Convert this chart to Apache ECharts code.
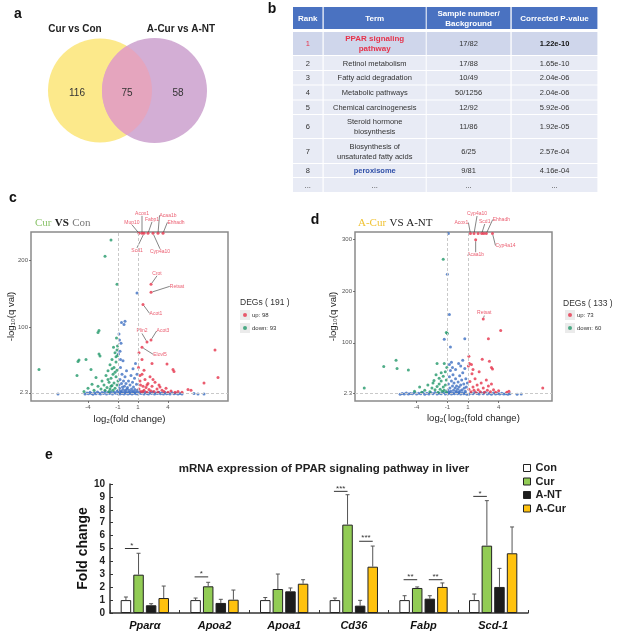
<!DOCTYPE html>
<html>
<head>
<meta charset="utf-8">
<script src="https://cdn.jsdelivr.net/npm/echarts@6/dist/echarts.min.js"></script>
<style>html,body{margin:0;padding:0;background:#fff}#main{width:617px;height:638px}</style>
</head>
<body>
<div id="main"></div>
<script>
// ---- a: venn
var vennSets = ['Cur vs Con', 'A-Cur vs A-NT'];
var vennCounts = [116, 75, 58];

// ---- b: KEGG table
var tableHead = ['Rank', 'Term', 'Sample number/\nBackground', 'Corrected P-value'];
var ranks = ['1', '2', '3', '4', '5', '6', '7', '8', '...'];
var terms = ['PPAR signaling\npathway', 'Retinol metabolism', 'Fatty acid degradation', 'Metabolic pathways',
  'Chemical carcinogenesis', 'Steroid hormone\nbiosynthesis', 'Biosynthesis of\nunsaturated fatty acids', 'peroxisome', '...'];
var samples = ['17/82', '17/88', '10/49', '50/1256', '12/92', '11/86', '6/25', '9/81', '...'];
var pvals = ['1.22e-10', '1.65e-10', '2.04e-06', '2.04e-06', '5.92e-06', '1.92e-05', '2.57e-04', '4.16e-04', '...'];

// ---- c: Cur vs Con volcano  [log2FC, -log10 q]
var cNs = [
  [-7.0,0.5],[6.6,1.2],[7.0,0.4],[7.6,0.6],
  [-4.3,0.4],[-4.1,2.1],[-3.95,0.8],[-3.8,3.1],[-3.65,1.2],[-3.5,0.2],[-3.35,2.4],[-3.2,0.9],[-3.05,3.6],[-2.9,1.5],[-2.75,0.3],[-2.6,2.8],[-2.45,1.1],[-2.3,4.0],[-2.15,0.6],[-2.0,2.5],[-1.85,1.3],[-1.7,3.7],[-1.55,0.4],[-1.4,2.9],[-1.25,1.6],[-1.1,4.4],[-1.0,0.7],
  [-0.9,2.2],[-0.8,0.5],[-0.7,3.4],[-0.6,1.0],[-0.5,2.7],[-0.4,0.3],[-0.3,3.9],[-0.2,1.4],[-0.1,2.6],[0.0,0.6],[0.1,3.2],[0.2,1.1],[0.3,4.1],[0.4,0.4],[0.5,2.3],[0.6,1.5],[0.7,3.6],[0.8,0.8],[0.9,2.9],[1.0,0.5],
  [1.15,3.3],[1.3,1.0],[1.45,2.4],[1.6,0.3],[1.75,3.0],[1.9,1.3],[2.05,0.6],[2.2,2.6],[2.35,1.1],[2.5,3.4],[2.65,0.4],[2.8,2.0],[2.95,1.2],[3.1,3.1],[3.25,0.7],[3.4,1.9],[3.55,0.3],[3.7,2.7],[3.85,0.9],[4.0,1.6],[4.2,0.4],[4.4,2.2],[4.6,0.8],[4.8,1.4],[5.0,0.3],[5.2,1.0],[5.4,0.5],
  [-0.95,6],[-0.9,14],[-0.85,9],[-0.8,22],[-0.75,40],[-0.7,5],[-0.7,76],[-0.65,16],[-0.6,30],[-0.55,11],[-0.5,50],[-0.5,7],[-0.45,20],[-0.4,104],[-0.35,12],[-0.3,109],[-0.3,26],[-0.25,6],[-0.2,16],[-0.15,35],[-0.1,8],[-0.05,10],[0.05,20],[0.1,6],[0.2,14],[0.3,28],[0.35,8],[0.45,18],[0.5,5],[0.5,38],[0.55,11],[0.65,24],[0.7,7],[0.75,46],[0.85,15],[0.9,151],[0.9,30],[0.95,6],[-0.9,90],[-0.85,81],[-0.95,60],[-0.65,107],[-0.8,64],[-0.75,52]
];
var cDown = [
  [-8.9,37],[-5.0,49],[-4.9,51],[-4.2,52],[-5.1,28],[-3.7,37],[-3.2,25],[-2.9,60],[-2.8,57],[-2.9,95],[-3.0,92],[-1.7,230],[-2.3,206],[-1.1,164],
  [-2.6,20],[-2.4,14],[-2.2,28],[-2.1,10],[-2.0,35],[-1.9,18],[-1.8,44],[-1.8,8],[-1.7,24],[-1.6,52],[-1.6,13],[-1.5,30],[-1.5,6],[-1.4,40],[-1.4,17],[-1.3,62],[-1.3,9],[-1.2,26],[-1.2,48],[-1.1,14],[-1.1,36],[-1.05,72],[-1.0,20],
  [-1.9,4],[-2.3,6],[-2.7,8],[-3.0,12],[-3.4,6],[-3.6,15],[-4.0,9],[-4.4,4],[-1.6,38],[-1.3,33],[-1.2,56],[-1.7,12],[-2.0,22],[-1.45,70],[-1.15,84],[-1.1,66],[-1.05,58]
];
var cUp = [
  [8.7,66],[9.0,25],[7.6,17],[6.0,7],[2.4,46],[3.9,45],[4.5,37],[4.6,34],[1.4,52],
  [1.1,8],[1.2,20],[1.3,4],[1.4,30],[1.5,12],[1.6,6],[1.7,22],[1.8,10],[1.9,3],[2.0,16],[2.1,7],[2.2,26],[2.3,5],[2.4,12],[2.6,4],[2.7,18],[2.9,8],[3.0,3],[3.2,11],[3.4,6],[3.6,4],[3.8,9],[4.0,3],[4.3,5],[4.7,3],[5.0,4],[5.4,3],[6.3,6],
  [1.05,40],[1.1,62],[1.25,14],[1.6,36],[2.5,22],[3.1,14],[1.2,28],[1.5,4],[1.9,14]
];
var cLabNames = ['Mup10', 'Acox1', 'Scd1', 'Fabp1', 'Cyp4a10', 'Acaa1b', 'Ehhadh', 'Crot', 'Retsat', 'Acot1', 'Plin2', 'Acot3', 'Elovl5'];
var cLabPts = [[1.1,240],[1.4,240],[1.6,240],[2.0,240],[2.5,240],[3.0,240],[3.5,240],[2.3,164],[2.3,152],[1.5,134],[1.9,78],[2.3,81],[1.4,70]];

// ---- d: A-Cur vs A-NT volcano
var dNs = [
  [-0.9,312],[-1.0,233],[-0.8,155],[0.7,108],[-1.3,107],[-0.7,92],[0.5,66],[0.1,60],[-0.5,52],[5.8,0.3],[6.2,0.5],
  [-5.6,0.3],[-5.4,1.5],[-5.2,0.6],[-5.0,2.4],[-4.8,0.4],[-4.6,1.7],[-4.4,0.9],[-4.2,3.0],[-4.0,0.5],[-3.8,2.2],[-3.6,1.0],[-3.4,3.3],[-3.2,0.3],[-3.0,1.9],[-2.8,0.8],[-2.6,2.8],[-2.4,1.2],[-2.2,3.6],[-2.0,0.4],[-1.8,2.1],[-1.6,1.1],[-1.4,3.4],[-1.2,0.6],[-1.05,2.5],
  [-0.9,1.2],[-0.75,3.1],[-0.6,0.4],[-0.45,2.2],[-0.3,0.9],[-0.15,3.5],[0.0,1.3],[0.15,2.8],[0.3,0.5],[0.45,3.2],[0.6,1.0],[0.75,2.4],[0.9,0.3],
  [1.1,0.3],[1.3,2.6],[1.5,0.9],[1.7,3.4],[1.9,1.4],[2.1,0.5],[2.3,2.9],[2.5,1.1],[2.7,3.6],[2.9,0.5],[3.1,1.8],[3.3,0.3],[3.5,2.5],[3.7,0.8],[3.9,1.6],[4.1,0.4],[4.3,2.0],[4.5,0.7],[4.7,1.3],[4.9,0.3],[5.1,0.9],
  [-0.95,8],[-0.9,20],[-0.85,4],[-0.8,34],[-0.75,12],[-0.7,46],[-0.65,6],[-0.6,26],[-0.5,16],[-0.45,38],[-0.4,8],[-0.35,22],[-0.25,12],[-0.2,30],[-0.15,6],[-0.1,16],[0.0,10],[0.05,24],[0.1,4],[0.15,14],[0.2,36],[0.25,7],[0.3,18],[0.4,28],[0.45,9],[0.5,42],[0.6,20],[0.65,12],[0.7,50],[0.75,6],[0.8,30],[0.85,14],[0.95,22],[-0.8,58],[-0.6,62],[0.3,55],[-0.2,48]
];
var dDown = [
  [-1.4,262],[-1.1,120],[-1.0,118],[-6.0,66],[-7.2,54],[-5.9,50],[-4.8,47],[-9.1,12],[-2.0,60],[-1.3,60],[-2.3,27],[-1.8,31],[-3.7,14],
  [-3.2,8],[-2.9,18],[-2.7,5],[-2.5,12],[-2.4,22],[-2.2,9],[-2.1,38],[-2.0,15],[-1.9,4],[-1.8,20],[-1.7,10],[-1.6,26],[-1.5,6],[-1.4,35],[-1.4,14],[-1.3,8],[-1.2,44],[-1.2,18],[-1.1,4],[-1.1,28],[-1.05,52],[-4.2,6],[-3.5,4],[-1.6,42]
];
var dUp = [
  [4.2,124],[3.0,108],[1.1,74],[2.4,68],[3.1,64],[3.4,49],[3.3,52],[8.3,12],[5.0,6],[4.8,4],[2.0,312],[2.55,312],
  [1.1,10],[1.2,25],[1.3,5],[1.4,40],[1.5,14],[1.6,8],[1.7,30],[1.8,3],[1.9,18],[2.0,9],[2.1,44],[2.2,5],[2.3,22],[2.5,12],[2.6,4],[2.8,28],[2.9,8],[3.0,16],[3.2,5],[3.3,20],[3.5,9],[3.7,4],
  [1.05,55],[1.15,60],[1.35,58],[1.5,48],[4.0,7]
];
var dLabNames = ['Acox1', 'Cyp4a10', 'Scd1', 'Ehhadh', 'Cyp4a14', 'Acaa1b', 'Retsat'];
var dLabPts = [[1.25,312],[1.6,312],[2.35,312],[2.8,312],[3.4,312],[1.76,300],[2.5,146]];

// ---- e: qPCR bars
var genes = ['Pparα', 'Apoa2', 'Apoa1', 'Cd36', 'Fabp', 'Scd-1'];
var groups = ['Con', 'Cur', 'A-NT', 'A-Cur'];
var conMean = [1.0, 1.0, 1.0, 1.0, 1.0, 1.0];
var conSd = [0.24, 0.16, 0.2, 0.16, 0.34, 0.47];
var curMean = [2.97, 2.07, 1.86, 6.85, 1.94, 5.22];
var curSd = [1.66, 0.31, 1.16, 2.32, 0.08, 3.49];
var antMean = [0.6, 0.78, 1.68, 0.57, 1.11, 2.02];
var antSd = [0.12, 0.28, 0.26, 0.41, 0.23, 1.44];
var acurMean = [1.16, 1.03, 2.27, 3.59, 2.02, 4.63];
var acurSd = [0.93, 0.75, 0.31, 1.6, 0.31, 2.04];
// [gene, fromGroup, toGroup, height, mark]
var sigMarks = [[0,0,1,5.0,'*'],[1,0,1,2.8,'*'],[3,0,1,9.43,'***'],[3,2,3,5.56,'***'],[4,0,1,2.58,'**'],[4,2,3,2.58,'**'],[5,0,1,9.04,'*']];

// ---- layout bits (pixels)
var vennGeo = [[100, 90.5, 52], [154.5, 90.5, 52.5]];
var vennNumPos = [[77, 93], [127, 93], [178, 93]];
var colEdges = [[0, 29.5], [30.7, 132.7], [133.7, 217.4], [218.7, 304.4]];
var rowEdges = [[0, 22], [25, 48], [49, 63], [64, 77.5], [78.5, 92.5], [93.5, 107], [108, 131], [132, 156], [157, 170], [171, 185]];
var cLabOff = [[-7,-11],[0,-20],[-7,17],[4,-14],[7,18],[10,-18],[13,-11],[6,-11],[26,-6],[13,9],[-5,-11],[12,-9],[18,7]];
var dLabOff = [[-9,-11],[3,-20],[3,-12],[15,-14],[13,12],[0,15],[1,-6]];
var barW = 10.5, barStep = 12.6;

var RED = '#e6334b', GREEN = '#23996a', BLUE = '#3d6fc2';
var SANS = '"Liberation Sans", Arial, sans-serif';

var chart = echarts.init(document.getElementById('main'));

function vennItem(params, api) {
  var c1 = api.coord([vennGeo[0][0], vennGeo[0][1]]);
  var c2 = api.coord([vennGeo[1][0], vennGeo[1][1]]);
  var r1 = api.size([vennGeo[0][2], 0])[0];
  var r2 = api.size([vennGeo[1][2], 0])[0];
  var d = c2[0] - c1[0];
  var a = (r1 * r1 - r2 * r2 + d * d) / (2 * d);
  var h = Math.sqrt(r1 * r1 - a * a);
  var px = c1[0] + a, yt = c1[1] - h, yb = c1[1] + h;
  var lens = 'M' + px + ' ' + yt + ' A' + r1 + ' ' + r1 + ' 0 0 1 ' + px + ' ' + yb +
    ' A' + r2 + ' ' + r2 + ' 0 0 1 ' + px + ' ' + yt + ' Z';
  var kids = [
    {type: 'circle', shape: {cx: c1[0], cy: c1[1], r: r1}, style: {fill: '#fce98b'}},
    {type: 'circle', shape: {cx: c2[0], cy: c2[1], r: r2}, style: {fill: '#d3aed5'}},
    {type: 'path', shape: {pathData: lens}, style: {fill: '#e5a5be'}}
  ];
  vennCounts.forEach(function (n, i) {
    var p = api.coord(vennNumPos[i]);
    kids.push({type: 'text', style: {text: String(n), x: p[0], y: p[1], align: 'center', verticalAlign: 'middle',
      font: '10px ' + SANS, fill: '#333'}});
  });
  return {type: 'group', children: kids};
}

function tableItem(params, api) {
  var i = params.dataIndex;
  var re = rowEdges[i];
  var kids = [];
  for (var j = 0; j < 4; j++) {
    var ce = colEdges[j];
    var p0 = api.coord([ce[0], re[0]]), p1 = api.coord([ce[1], re[1]]);
    var fill = i === 0 ? '#4a72c1' : (i === 1 ? '#cfd6eb' : '#e8ebf5');
    kids.push({type: 'rect', shape: {x: p0[0], y: p0[1], width: p1[0] - p0[0], height: p1[1] - p0[1]}, style: {fill: fill}});
    var txt, color = '#333', weight = 'normal', size = 7.5;
    if (i === 0) { txt = tableHead[j]; color = '#fff'; weight = 'bold'; size = 8; }
    else {
      var r = i - 1;
      txt = [ranks, terms, samples, pvals][j][r];
      if (r === 0) {
        if (j === 0) color = RED;
        if (j === 1) { color = RED; weight = 'bold'; size = 8; }
        if (j === 3) { weight = 'bold'; color = '#111'; }
      }
      if (r === 7 && j === 1) { color = '#2f4fa8'; weight = 'bold'; }
    }
    kids.push({type: 'text', style: {text: txt, x: (p0[0] + p1[0]) / 2, y: (p0[1] + p1[1]) / 2 + 0.5,
      align: 'center', verticalAlign: 'middle', lineHeight: 10,
      font: weight + ' ' + size + 'px ' + SANS, fill: color}});
  }
  return {type: 'group', children: kids};
}

function errItem(g, sds) {
  return function (params, api) {
    var c = api.coord([api.value(0), api.value(1)]);
    var t = api.coord([api.value(0), api.value(1) + sds[params.dataIndex]]);
    var x = c[0] + (g - 1.5) * barStep;
    var st = {stroke: '#555', lineWidth: 1};
    return {type: 'group', children: [
      {type: 'line', shape: {x1: x, y1: c[1], x2: x, y2: t[1]}, style: st},
      {type: 'line', shape: {x1: x - 2, y1: t[1], x2: x + 2, y2: t[1]}, style: st}
    ]};
  };
}

function sigItem(params, api) {
  var c = api.coord([api.value(0), api.value(3)]);
  var x1 = c[0] + (api.value(1) - 1.5) * barStep - 1;
  var x2 = c[0] + (api.value(2) - 1.5) * barStep;
  return {type: 'group', children: [
    {type: 'line', shape: {x1: x1, y1: c[1], x2: x2, y2: c[1]}, style: {stroke: '#333', lineWidth: 1}},
    {type: 'text', style: {text: sigMarks[params.dataIndex][4], x: (x1 + x2) / 2, y: c[1] + 1,
      align: 'center', verticalAlign: 'bottom', font: '8px ' + SANS, fill: '#333'}}
  ]};
}

function volcanoAxes(grid, xmin, xmax, ymin, ymax, yTicks) {
  var tick = {show: true, length: 2, lineStyle: {color: '#555', width: 0.8}};
  var lab = {fontSize: 6, color: '#555', margin: 3, fontFamily: SANS};
  return {
    x: {type: 'value', gridIndex: grid, min: xmin, max: xmax, splitLine: {show: false}, axisLine: {show: false, onZero: false},
      axisTick: Object.assign({customValues: [-4, -1, 1, 4]}, tick),
      axisLabel: Object.assign({customValues: [-4, -1, 1, 4]}, lab)},
    y: {type: 'value', gridIndex: grid, min: ymin, max: ymax, splitLine: {show: false}, axisLine: {show: false, onZero: false},
      axisTick: Object.assign({customValues: yTicks}, tick),
      axisLabel: Object.assign({customValues: yTicks}, lab),
      name: '-log₁₀(q val)', nameLocation: 'middle', nameRotate: 90, nameGap: 15, nameMoveOverlap: false,
      nameTextStyle: {fontSize: 9.5, color: '#222', fontFamily: SANS}}
  };
}

function volcanoSeries(ax, ns, down, up, names, pts, offs, downName, upName) {
  var base = {type: 'scatter', xAxisIndex: ax, yAxisIndex: ax, symbolSize: 3, silent: true};
  return [
    Object.assign({}, base, {name: 'ns' + ax, data: ns, itemStyle: {color: BLUE},
      markLine: {silent: true, symbol: 'none', label: {show: false},
        lineStyle: {color: '#c9c9c9', type: [3, 2], width: 1},
        data: [{xAxis: -1}, {xAxis: 1}, {yAxis: 2.3}]}}),
    Object.assign({}, base, {name: downName, data: down, itemStyle: {color: GREEN}}),
    Object.assign({}, base, {name: upName, data: up, itemStyle: {color: RED}}),
    Object.assign({}, base, {name: 'lab' + ax, itemStyle: {color: RED},
      data: pts.map(function (p, i) { return {name: names[i], value: p}; }),
      label: {show: true, formatter: '{b}', fontSize: 5, color: RED, fontFamily: SANS},
      labelLine: {show: true, lineStyle: {color: '#333', width: 0.6}},
      labelLayout: function (p) {
        var o = offs[p.dataIndex];
        return {x: p.rect.x + p.rect.width / 2 + o[0], y: p.rect.y + p.rect.height / 2 + o[1],
          align: 'center', verticalAlign: 'middle'};
      }})
  ];
}

var vc = volcanoAxes(2, -9.7, 10, -10, 242, [2.3, 100, 200]);
var vd = volcanoAxes(3, -10, 9.2, -13, 315, [2.3, 100, 200, 300]);
vc.x.name = 'log₂(fold change)'; vc.x.nameLocation = 'middle'; vc.x.nameGap = 13;
vc.x.nameTextStyle = {fontSize: 9.5, color: '#222', fontFamily: SANS};
vd.y.nameGap = 17;

var means = [conMean, curMean, antMean, acurMean];
var sds = [conSd, curSd, antSd, acurSd];
var fills = ['#ffffff', '#92cc55', '#1c1c1c', '#ffc20e'];

var series = [
  {type: 'custom', xAxisIndex: 0, yAxisIndex: 0, silent: true, data: [[145, 90]], renderItem: vennItem},
  {type: 'custom', xAxisIndex: 1, yAxisIndex: 1, silent: true,
    data: rowEdges.map(function (r, i) { return [0, i]; }), renderItem: tableItem}
];
series = series.concat(volcanoSeries(2, cNs, cDown, cUp, cLabNames, cLabPts, cLabOff, 'down: 93', 'up: 98'));
series = series.concat(volcanoSeries(3, dNs, dDown, dUp, dLabNames, dLabPts, dLabOff, 'down: 60', 'up: 73'));
groups.forEach(function (g, k) {
  series.push({type: 'bar', name: g, xAxisIndex: 4, yAxisIndex: 4, data: means[k], barWidth: barW, barGap: '20%',
    itemStyle: {color: fills[k], borderColor: '#222', borderWidth: 1}, silent: true});
});
groups.forEach(function (g, k) {
  series.push({type: 'custom', xAxisIndex: 4, yAxisIndex: 4, silent: true, z: 3,
    data: genes.map(function (n, i) { return [i, means[k][i]]; }), renderItem: errItem(k, sds[k])});
});
series.push({type: 'custom', xAxisIndex: 4, yAxisIndex: 4, silent: true, z: 4,
  data: sigMarks.map(function (s) { return [s[0], s[1], s[2], s[3]]; }), renderItem: sigItem});

function txt(t, x, y, font, fill, align) {
  return {type: 'text', silent: true, style: {text: t, x: x, y: y, font: font, fill: fill || '#111',
    align: align || 'center', verticalAlign: 'middle'}};
}
function greyBox(x, y) {
  return {type: 'rect', silent: true, shape: {x: x, y: y, width: 10, height: 10}, style: {fill: '#ebebeb'}};
}
var serif = '"Liberation Serif", "Times New Roman", serif';
var richTitle = function (t, x, y, rich) {
  return {type: 'text', silent: true, style: {text: t, x: x, y: y, align: 'left', verticalAlign: 'middle', rich: rich}};
};
var degLegend = {orient: 'vertical', icon: 'circle', itemWidth: 4, itemHeight: 4, padding: 0,
  itemGap: 5, itemTextGap: 5, selectedMode: false, textStyle: {fontSize: 6, color: '#333', lineHeight: 8, fontFamily: SANS}};

var option = {
  animation: false,
  backgroundColor: '#fff',
  grid: [
    {left: 0, top: 0, width: 290, height: 180},
    {left: 293, top: 7, width: 305, height: 185},
    {left: 31, top: 232, width: 197, height: 169, show: true, borderColor: '#8a8a8a', borderWidth: 1.5, backgroundColor: '#fff'},
    {left: 355, top: 232, width: 197, height: 169, show: true, borderColor: '#8a8a8a', borderWidth: 1.5, backgroundColor: '#fff'},
    {left: 110, top: 484, width: 418, height: 129}
  ],
  xAxis: [
    {type: 'value', gridIndex: 0, min: 0, max: 290, show: false},
    {type: 'value', gridIndex: 1, min: 0, max: 305, show: false},
    vc.x, vd.x,
    {type: 'category', gridIndex: 4, data: genes,
      axisLine: {lineStyle: {color: '#333', width: 1.5}},
      axisTick: {show: true, inside: true, length: 3, lineStyle: {color: '#333'}},
      axisLabel: {fontStyle: 'italic', fontWeight: 'bold', fontSize: 11, color: '#111', margin: 7, fontFamily: SANS}}
  ],
  yAxis: [
    {type: 'value', gridIndex: 0, min: 0, max: 180, inverse: true, show: false},
    {type: 'value', gridIndex: 1, min: 0, max: 185, inverse: true, show: false},
    vc.y, vd.y,
    {type: 'value', gridIndex: 4, min: 0, max: 10, interval: 1, splitLine: {show: false},
      axisLine: {show: true, lineStyle: {color: '#333', width: 1.5}},
      axisTick: {show: true, inside: true, length: 3, lineStyle: {color: '#333'}},
      axisLabel: {fontWeight: 'bold', fontSize: 10, color: '#222', margin: 5, fontFamily: SANS},
      name: 'Fold change', nameLocation: 'middle', nameRotate: 90, nameGap: 20, nameMoveOverlap: false,
      nameTextStyle: {fontWeight: 'bold', fontSize: 14, color: '#111', fontFamily: SANS}}
  ],
  legend: [
    Object.assign({data: ['up: 98', 'down: 93'], left: 243, top: 311}, degLegend),
    Object.assign({data: ['up: 73', 'down: 60'], left: 568, top: 311}, degLegend),
    {data: groups, left: 523, top: 462, orient: 'vertical', icon: 'rect', itemWidth: 7, itemHeight: 7, itemGap: 1.5,
      itemTextGap: 1, padding: 0, selectedMode: false, itemStyle: {borderColor: '#222', borderWidth: 1},
      textStyle: {fontSize: 11, fontWeight: 'bold', color: '#222', lineHeight: 12, fontFamily: SANS}}
  ],
  graphic: [
    greyBox(240, 310), greyBox(240, 323), greyBox(565, 310), greyBox(565, 323),
    txt('a', 18, 14, 'bold 14px ' + SANS),
    txt('b', 272, 9, 'bold 14px ' + SANS),
    txt('c', 13, 198, 'bold 14px ' + SANS),
    txt('d', 315, 220, 'bold 14px ' + SANS),
    txt('e', 49, 455, 'bold 14px ' + SANS),
    txt(vennSets[0], 75, 29, 'bold 10px ' + SANS, '#222'),
    txt(vennSets[1], 181, 29, 'bold 10px ' + SANS, '#222'),
    richTitle('{g|Cur} {k|VS} {m|Con}', 35, 223, {
      g: {fill: '#8cc46c', font: '11px ' + serif}, k: {fill: '#222', font: 'bold 11px ' + serif}, m: {fill: '#777', font: '11px ' + serif}}),
    richTitle('{g|A-Cur} {k|VS A-NT}', 358, 223, {
      g: {fill: '#f0c232', font: '11px ' + serif}, k: {fill: '#222', font: '11px ' + serif}}),
    txt('DEGs ( 191 )', 240, 303, '8.5px ' + SANS, '#333', 'left'),
    txt('DEGs ( 133 )', 563, 304, '8.5px ' + SANS, '#333', 'left'),
    txt('log₂(', 427, 418, '9.5px ' + SANS, '#222', 'left'),
    txt('log₂(fold change)', 448, 418, '9.5px ' + SANS, '#222', 'left'),
    txt('mRNA expression of PPAR signaling pathway in liver', 324, 469, 'bold 11.5px ' + SANS, '#222')
  ],
  series: series
};
chart.setOption(option);
</script>
</body>
</html>
